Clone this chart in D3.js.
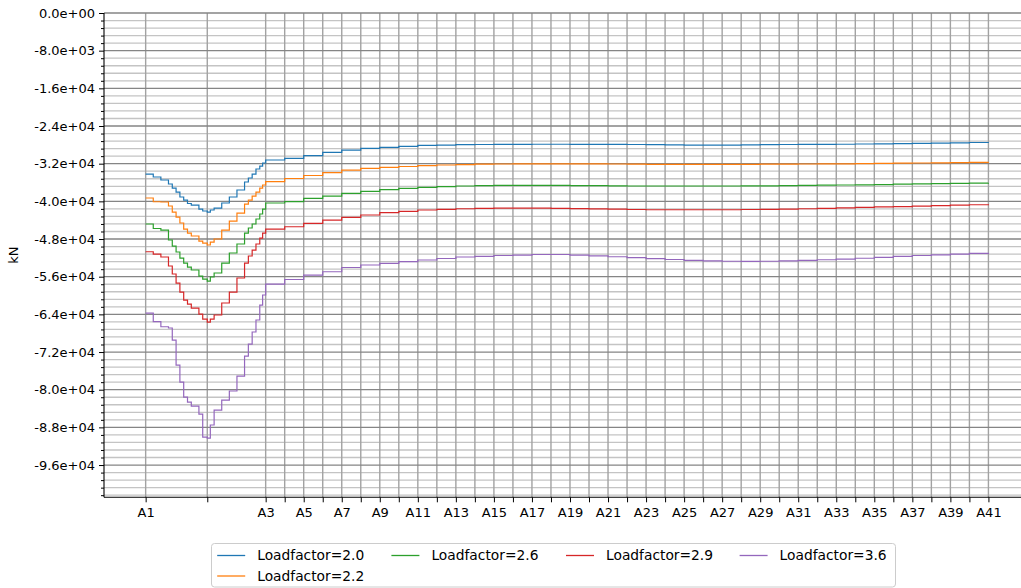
<!DOCTYPE html>
<html><head><meta charset="utf-8">
<script src="https://cdn.jsdelivr.net/npm/d3@7"></script>
<style>body{margin:0;background:#fff;overflow:hidden}</style>
</head><body><svg id="c" width="1021" height="588"></svg>
<script>
// Stations along the alignment (position in station-spacing units)
const stationNames = ["A1","A2","A3","A4","A5","A6","A7","A8","A9","A10","A11","A12","A13","A14","A15","A16","A17","A18","A19","A20","A21","A22","A23","A24","A25","A26","A27","A28","A29","A30","A31","A32","A33","A34","A35","A36","A37","A38","A39","A40","A41"];
const stationPos = [0, 3.24, 6.31, 7.31, 8.31, 9.31, 10.31, 11.31, 12.31, 13.31, 14.31, 15.31, 16.31, 17.31, 18.31, 19.31, 20.31, 21.31, 22.31, 23.31, 24.31, 25.31, 26.31, 27.31, 28.31, 29.31, 30.31, 31.31, 32.31, 33.31, 34.31, 35.31, 36.31, 37.31, 38.31, 39.31, 40.31, 41.31, 42.31, 43.31, 44.31];

// Sample positions of the force results
const samplePos = [0, 0.4, 0.8, 1.2, 1.4, 1.6, 1.8, 2.0, 2.2, 2.4, 2.8, 3.0, 3.24, 3.4, 3.6, 4.0, 4.4, 4.8, 5.2, 5.4, 5.6, 5.8, 6.0, 6.15,
  6.31, 7.31, 8.31, 9.31, 10.31, 11.31, 12.31, 13.31, 14.31, 15.31, 16.31, 17.31, 18.31, 19.31, 20.31, 21.31, 22.31, 23.31, 24.31, 25.31, 26.31, 27.31, 28.31, 29.31, 30.31, 31.31, 32.31, 33.31, 34.31, 35.31, 36.31, 37.31, 38.31, 39.31, 40.31, 41.31, 42.31, 43.31, 44.31];

const seriesNames = ["Loadfactor=2.0", "Loadfactor=2.2", "Loadfactor=2.6", "Loadfactor=2.9", "Loadfactor=3.6"];
const seriesColors = ["#1f77b4", "#ff7f0e", "#2ca02c", "#d62728", "#9467bd"];

const lf20 = [-34200, -34830, -35470, -36320, -37170, -38020, -39080, -39720, -40460, -40780, -41630, -42050, -42270, -41840, -41420, -40350, -39080, -37590, -35890, -35040, -34200, -33130, -32500, -31860,
  -31220, -30860, -30310, -29590, -29100, -28740, -28520, -28310, -28100, -28040, -27970, -27930, -27910, -27890, -27870, -27870, -27890, -27890, -27910, -27930, -27950, -27990, -28040, -28040, -28040, -28010, -27970, -27930, -27910, -27890, -27870, -27820, -27780, -27740, -27700, -27630, -27570, -27500, -27460];
const lf22 = [-39290, -40080, -40140, -40990, -42270, -43330, -44600, -45880, -46730, -47360, -48430, -48850, -49270, -48640, -48000, -46090, -44180, -42480, -40570, -39720, -38870, -38020, -37170, -36530,
  -35830, -35150, -34510, -33880, -33350, -32980, -32770, -32600, -32430, -32280, -32180, -32110, -32070, -32050, -32030, -32030, -32030, -32030, -32070, -32110, -32130, -32160, -32160, -32160, -32160, -32130, -32110, -32090, -32070, -32050, -32030, -31990, -31940, -31900, -31860, -31820, -31770, -31730, -31710];
const lf26 = [-44810, -45770, -46090, -48210, -49490, -50760, -52040, -53100, -53950, -54580, -55860, -56500, -56920, -56070, -55220, -53100, -50970, -49060, -46730, -45660, -44810, -43750, -42690, -41630,
  -40350, -40040, -39360, -38870, -38290, -37870, -37490, -37230, -37020, -36890, -36740, -36660, -36620, -36590, -36590, -36620, -36640, -36680, -36720, -36740, -36740, -36740, -36740, -36740, -36740, -36720, -36700, -36660, -36620, -36570, -36530, -36490, -36430, -36360, -36300, -36230, -36170, -36130, -36110];
const lf29 = [-50700, -51190, -51820, -53730, -55430, -57350, -59260, -60960, -61810, -62660, -63930, -64990, -65630, -64990, -64140, -61590, -59260, -56280, -53100, -51610, -50340, -49060, -47790, -46730,
  -45880, -45390, -44670, -43970, -43390, -42900, -42410, -42120, -41840, -41690, -41570, -41480, -41440, -41420, -41420, -41480, -41540, -41610, -41670, -41730, -41780, -41780, -41780, -41780, -41780, -41730, -41690, -41630, -41570, -41480, -41370, -41270, -41180, -41100, -41010, -40910, -40800, -40720, -40630];
const lf36 = [-63720, -65560, -66630, -66900, -69450, -74760, -78370, -81560, -82620, -83470, -85170, -90050, -90270, -87500, -84320, -82200, -80280, -77100, -72850, -70300, -67750, -65200, -62020, -59890,
  -57560, -56600, -55650, -54950, -54050, -53520, -53160, -52820, -52460, -52140, -51820, -51670, -51500, -51400, -51290, -51290, -51400, -51570, -51760, -51970, -52180, -52350, -52520, -52630, -52720, -52740, -52720, -52650, -52550, -52400, -52250, -52080, -51890, -51700, -51500, -51360, -51190, -51040, -50910];
const seriesValues = [lf20, lf22, lf26, lf29, lf36];

const yMajorTicks = [0, -8000, -16000, -24000, -32000, -40000, -48000, -56000, -64000, -72000, -80000, -88000, -96000];
const yLabel = "kN";

const svg = d3.select("#c");
const L = 104, T = 13, B = 497.3;
const x = d3.scaleLinear().domain([-2.19, 46.5]).range([L, L + 48.69 * 19.02]);
const y = d3.scaleLinear().domain([-102850, 0]).range([B, T]);
const R = x.range()[1];

const yMinorTicks = d3.range(0, -102850, -1600).filter(v => !yMajorTicks.includes(v));

function fmtE(v) {
  if (v === 0) return "0.0e+00";
  const e = Math.floor(Math.log10(Math.abs(v)) + 1e-9);
  const m = v / Math.pow(10, e);
  return m.toFixed(1) + "e" + (e < 0 ? "-" : "+") + String(Math.abs(e)).padStart(2, "0");
}

const grid = svg.append("g");
grid.selectAll(".hmin").data(yMinorTicks).join("line")
  .attr("x1", L).attr("x2", R).attr("y1", d => y(d)).attr("y2", d => y(d))
  .attr("stroke", "#c4c4c4").attr("stroke-width", 1.3);
grid.selectAll(".vg").data(stationPos).join("line")
  .attr("x1", d => x(d)).attr("x2", d => x(d)).attr("y1", T).attr("y2", B)
  .attr("stroke", "#a2a2a2").attr("stroke-width", 1.4);
grid.selectAll(".hmaj").data(yMajorTicks).join("line")
  .attr("x1", L).attr("x2", R).attr("y1", d => y(d)).attr("y2", d => y(d))
  .attr("stroke", "#858585").attr("stroke-width", 1.3);

// series
const line = d3.line().curve(d3.curveStepAfter).x((d, i) => x(samplePos[i])).y(d => y(d));
svg.append("g").selectAll("path").data(seriesValues).join("path")
  .attr("d", d => line(d)).attr("fill", "none")
  .attr("stroke", (d, i) => seriesColors[i]).attr("stroke-width", 1.2);

// axes
const font = "DejaVu Sans, sans-serif";
const xAxis = d3.axisBottom(x).tickValues(stationPos).tickSize(5).tickPadding(4)
  .tickFormat((d, i) => i % 2 === 0 ? stationNames[i] : "");
const gx = svg.append("g").attr("transform", `translate(0,${B})`).call(xAxis);
gx.select(".domain").attr("d", `M${L},0H${1021}`).attr("stroke", "#000").attr("stroke-width", 1.1);
gx.selectAll("text").attr("font-family", font).attr("font-size", 13).attr("fill", "#000").attr("dy", "0.85em");
gx.selectAll(".tick line").attr("stroke", "#000").attr("stroke-width", 1);

const yAxis = d3.axisLeft(y).tickValues(yMajorTicks).tickSize(5).tickPadding(4).tickFormat(fmtE);
const gy = svg.append("g").attr("transform", `translate(${L},0)`).call(yAxis);
gy.select(".domain").attr("d", `M0,${T}V${B}`).attr("stroke", "#000").attr("stroke-width", 1.1);
gy.selectAll("text").attr("font-family", font).attr("font-size", 13).attr("fill", "#000");
gy.selectAll(".tick line").attr("stroke", "#000");
const gym = svg.append("g").attr("transform", `translate(${L},0)`)
  .call(d3.axisLeft(y).tickValues(yMinorTicks).tickSize(3).tickFormat(""));
gym.select(".domain").remove();
gym.selectAll(".tick line").attr("stroke", "#000");

svg.append("text").attr("transform", `translate(18,${(T + B) / 2}) rotate(-90)`)
  .attr("text-anchor", "middle").attr("font-family", font).attr("font-size", 13).text(yLabel);

// legend (4 columns, filled column-wise)
const lg = svg.append("g");
lg.append("rect").attr("x", 211.5).attr("y", 543.5).attr("width", 684).attr("height", 43.5)
  .attr("rx", 3).attr("fill", "#fff").attr("stroke", "#cccccc");
const colX = [217.2, 391.4, 566, 739.6];
const slots = [[0, 0], [0, 1], [1, 0], [2, 0], [3, 0]];
seriesNames.forEach((n, i) => {
  const cx = colX[slots[i][0]], cy = 555.5 + slots[i][1] * 20.5;
  lg.append("line").attr("x1", cx).attr("x2", cx + 28).attr("y1", cy).attr("y2", cy)
    .attr("stroke", seriesColors[i]).attr("stroke-width", 1.3);
  lg.append("text").attr("x", cx + 40).attr("y", cy).attr("dy", "0.35em")
    .attr("font-family", font).attr("font-size", 13.8).attr("fill", "#000").text(n);
});
</script></body></html>
